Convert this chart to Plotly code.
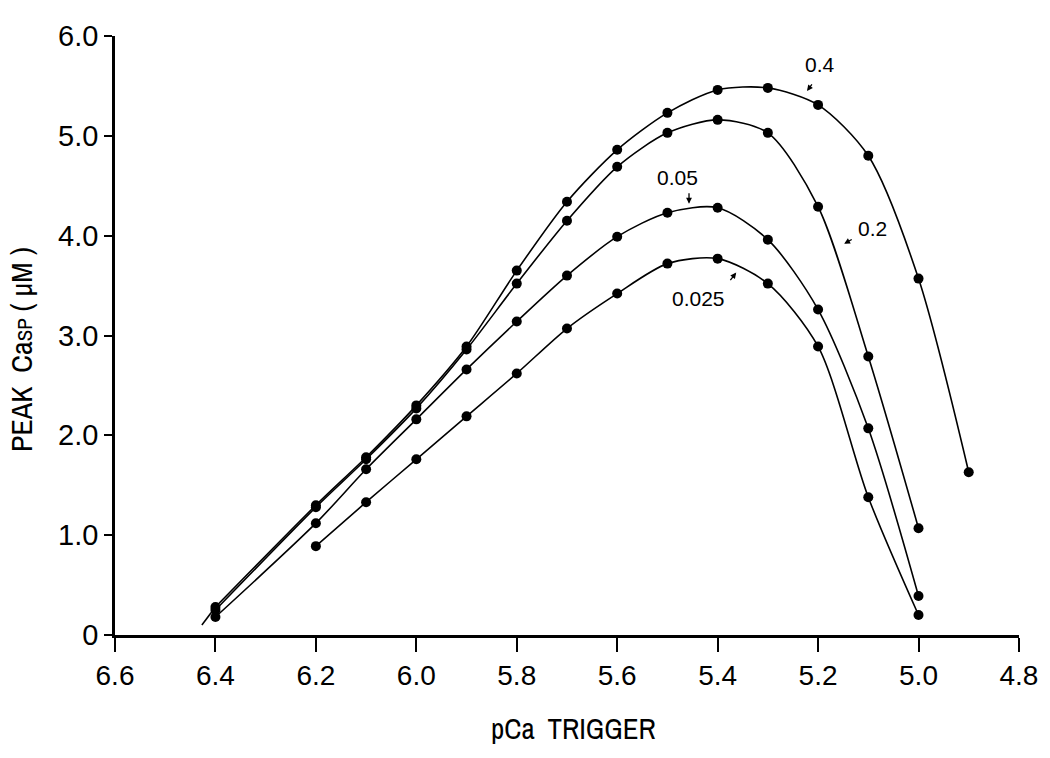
import plotly.graph_objects as go

# pCa trigger values (x) and peak CaSP (uM) for each curve
x_04 = [6.4, 6.2, 6.1, 6.0, 5.9, 5.8, 5.7, 5.6, 5.5, 5.4, 5.3, 5.2, 5.1, 5.0, 4.9]
y_04 = [0.28, 1.30, 1.78, 2.30, 2.89, 3.65, 4.34, 4.86, 5.23, 5.46, 5.48, 5.31, 4.80, 3.57, 1.63]

x_02 = [6.4, 6.2, 6.1, 6.0, 5.9, 5.8, 5.7, 5.6, 5.5, 5.4, 5.3, 5.2, 5.1, 5.0]
y_02 = [0.25, 1.28, 1.76, 2.27, 2.86, 3.52, 4.15, 4.69, 5.03, 5.16, 5.03, 4.29, 2.79, 1.07]

x_005 = [6.4, 6.2, 6.1, 6.0, 5.9, 5.8, 5.7, 5.6, 5.5, 5.4, 5.3, 5.2, 5.1, 5.0]
y_005 = [0.18, 1.12, 1.66, 2.16, 2.66, 3.14, 3.60, 3.99, 4.23, 4.28, 3.96, 3.26, 2.07, 0.39]

x_0025 = [6.2, 6.1, 6.0, 5.9, 5.8, 5.7, 5.6, 5.5, 5.4, 5.3, 5.2, 5.1, 5.0]
y_0025 = [0.89, 1.33, 1.76, 2.19, 2.62, 3.07, 3.42, 3.72, 3.77, 3.52, 2.89, 1.38, 0.20]

# short line stub below the first point (drawn without a marker)
x_stub = [6.4, 6.427]
y_stub = [0.28, 0.10]

x_ticks = [6.6, 6.4, 6.2, 6.0, 5.8, 5.6, 5.4, 5.2, 5.0, 4.8]
x_ticktext = ["6.6", "6.4", "6.2", "6.0", "5.8", "5.6", "5.4", "5.2", "5.0", "4.8"]
y_ticks = [0, 1, 2, 3, 4, 5, 6]
y_ticktext = ["0", "1.0", "2.0", "3.0", "4.0", "5.0", "6.0"]

# curve labels: text, label position, arrow tail, arrow head
label_text = ["0.4", "0.2", "0.05", "0.025"]
label_x = [5.196, 5.091, 5.479, 5.439]
label_y = [5.71, 4.07, 4.58, 3.37]
tail_x = [5.210, 5.130, 5.457, 5.377]
tail_y = [5.53, 3.97, 4.44, 3.54]
head_x = [5.222, 5.148, 5.457, 5.363]
head_y = [5.45, 3.92, 4.32, 3.63]

fig = go.Figure()
fig.add_trace(go.Scatter(x=x_stub, y=y_stub, mode="lines",
                         line=dict(color="black", width=1.6),
                         showlegend=False, hoverinfo="skip"))
for xs, ys in [(x_04, y_04), (x_02, y_02), (x_005, y_005), (x_0025, y_0025)]:
    fig.add_trace(go.Scatter(
        x=xs, y=ys, mode="lines+markers",
        line=dict(color="black", width=1.6, shape="spline", smoothing=0.8),
        marker=dict(color="black", size=10),
        showlegend=False, hoverinfo="skip"))

narrow = "Archivo Narrow, Liberation Sans, Arial, sans-serif"
regular = "Liberation Sans, Arial, sans-serif"

for t, lx, ly, tx, ty, hx, hy in zip(label_text, label_x, label_y, tail_x, tail_y, head_x, head_y):
    fig.add_annotation(x=hx, y=hy, ax=tx, ay=ty, xref="x", yref="y", axref="x", ayref="y",
                       text="", showarrow=True, arrowhead=2, arrowsize=0.9, arrowwidth=1.3,
                       arrowcolor="black", standoff=0)
    fig.add_annotation(x=lx, y=ly, xref="x", yref="y", text=t, showarrow=False,
                       font=dict(family=regular, size=21, color="black"),
                       xanchor="center", yanchor="middle")

# axis titles as annotations for exact placement
fig.add_annotation(x=(21 - 115) / 904, y=(635 - 350) / 599, xref="paper", yref="paper",
                   text="PEAK  Ca<span style='font-size:21px'>SP</span> ( μM )",
                   textangle=-90, showarrow=False, xanchor="center", yanchor="middle",
                   font=dict(family=narrow, size=30, color="black"))
fig.add_annotation(x=(573 - 115) / 904, y=-(728 - 635) / 599, xref="paper", yref="paper",
                   text="pCa  TRIGGER", showarrow=False, xanchor="center", yanchor="middle",
                   font=dict(family=narrow, size=29, color="black"))

fig.update_layout(
    width=1050, height=758,
    margin=dict(l=115, r=31, t=36, b=123),
    paper_bgcolor="white", plot_bgcolor="white",
    font=dict(family=regular, color="black"),
    xaxis=dict(
        range=[6.6, 4.7999], tickvals=x_ticks, ticktext=x_ticktext, automargin=False,
        showgrid=False, zeroline=False, showline=True, linecolor="black", linewidth=2.5,
        ticks="outside", ticklen=14, tickwidth=2, tickcolor="black",
        tickfont=dict(size=28, family=regular, color="black"),
    ),
    yaxis=dict(
        range=[0, 6], tickvals=y_ticks, ticktext=y_ticktext, automargin=False,
        showgrid=False, zeroline=False, showline=True, linecolor="black", linewidth=2.5,
        ticks="outside", ticklen=8, tickwidth=2, tickcolor="black",
        tickfont=dict(size=29, family=regular, color="black"),
    ),
)

fig.write_html("out.html", config={"displayModeBar": False},
               post_script="document.body.style.margin='0';document.body.style.padding='0';")
